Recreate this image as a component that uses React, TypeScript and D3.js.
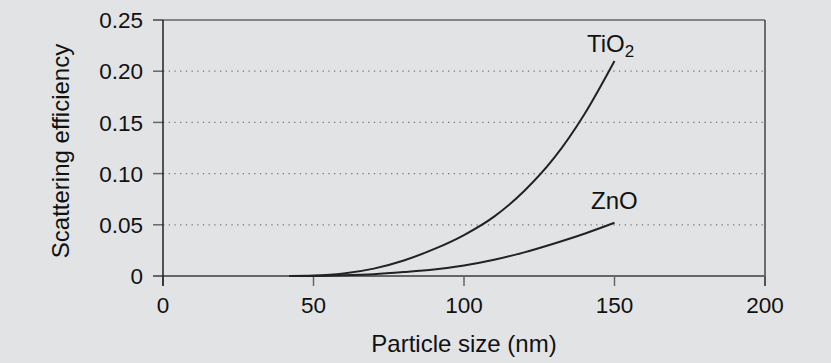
import React from "react";
import * as d3 from "d3";

const xTicks = [0, 50, 100, 150, 200];
const yTicks = [0, 0.05, 0.1, 0.15, 0.2, 0.25];
const yTickLabels = ["0", "0.05", "0.10", "0.15", "0.20", "0.25"];

const tio2Sizes = [42, 50, 60, 70, 80, 90, 100, 110, 120, 130, 140, 150];
const tio2Values = [0, 0.0004, 0.0024, 0.0072, 0.0152, 0.0262, 0.04, 0.058, 0.083, 0.1155, 0.158, 0.21];

const znoSizes = [42, 50, 60, 70, 80, 90, 100, 110, 120, 130, 140, 150];
const znoValues = [0, 0.0001, 0.0007, 0.0018, 0.0038, 0.0063, 0.0102, 0.0158, 0.0231, 0.0318, 0.0413, 0.052];

const W = 831;
const H = 363;
const left = 163;
const right = 765;
const top = 20;
const bottom = 276;
const FONT = "'Liberation Sans', Arial, sans-serif";

export default function App() {
  const x = d3.scaleLinear().domain([0, 200]).range([left, right]);
  const y = d3.scaleLinear().domain([0, 0.25]).range([bottom, top]);
  const line = d3
    .line<[number, number]>()
    .x((d) => x(d[0]))
    .y((d) => y(d[1]))
    .curve(d3.curveMonotoneX);
  const tio2 = tio2Sizes.map((s, i) => [s, tio2Values[i]] as [number, number]);
  const zno = znoSizes.map((s, i) => [s, znoValues[i]] as [number, number]);

  return (
    <div style={{ position: "fixed", left: 0, top: 0, width: W, height: H, background: "#e2e3e5" }}>
      <svg width={W} height={H} style={{ display: "block", fontFamily: FONT }}>
        <rect x={0} y={0} width={W} height={H} fill="#e2e3e5" />
        {/* grid lines */}
        {yTicks.slice(1, -1).map((t) => (
          <line
            key={"g" + t}
            x1={left}
            x2={right}
            y1={y(t)}
            y2={y(t)}
            stroke="#777"
            strokeWidth={1.2}
            strokeDasharray="1.3,4.4"
          />
        ))}
        {/* y ticks */}
        {yTicks.map((t) => (
          <line key={"yt" + t} x1={left - 10} x2={left} y1={y(t)} y2={y(t)} stroke="#666" strokeWidth={1.5} />
        ))}
        {/* x ticks */}
        {xTicks.map((t) => (
          <line key={"xt" + t} x1={x(t)} x2={x(t)} y1={bottom} y2={bottom + 10} stroke="#666" strokeWidth={1.5} />
        ))}
        {/* frame */}
        <line x1={left - 10} x2={right} y1={top} y2={top} stroke="#666" strokeWidth={1.5} />
        <line x1={right} x2={right} y1={top} y2={bottom + 10} stroke="#444" strokeWidth={1.5} />
        <line x1={left - 10} x2={right} y1={bottom} y2={bottom} stroke="#666" strokeWidth={2} />
        <line x1={left} x2={left} y1={top} y2={bottom + 10} stroke="#222" strokeWidth={1.5} />
        {/* curves */}
        <path d={line(tio2) || ""} fill="none" stroke="#222" strokeWidth={2} />
        <path d={line(zno) || ""} fill="none" stroke="#222" strokeWidth={2} />
        {/* tick labels */}
        {yTicks.map((t, i) => (
          <text key={"yl" + t} x={left - 20} y={y(t)} dy="0.36em" textAnchor="end" fontSize={22.5} fill="#111">
            {yTickLabels[i]}
          </text>
        ))}
        {xTicks.map((t) => (
          <text key={"xl" + t} x={x(t)} y={bottom + 37} textAnchor="middle" fontSize={22.5} fill="#111">
            {t}
          </text>
        ))}
        {/* axis titles */}
        <text x={(left + right) / 2} y={352} textAnchor="middle" fontSize={24} fill="#111">
          Particle size (nm)
        </text>
        <text
          transform={`translate(69,${(top + bottom) / 2 + 3}) rotate(-90)`}
          textAnchor="middle"
          fontSize={24}
          fill="#111"
        >
          Scattering efficiency
        </text>
        {/* labels */}
        <text x={587} y={52} fontSize={24} fill="#111">
          TiO<tspan fontSize={17} dy={5}>2</tspan>
        </text>
        <text x={591} y={209} fontSize={24} fill="#111">
          ZnO
        </text>
      </svg>
    </div>
  );
}
